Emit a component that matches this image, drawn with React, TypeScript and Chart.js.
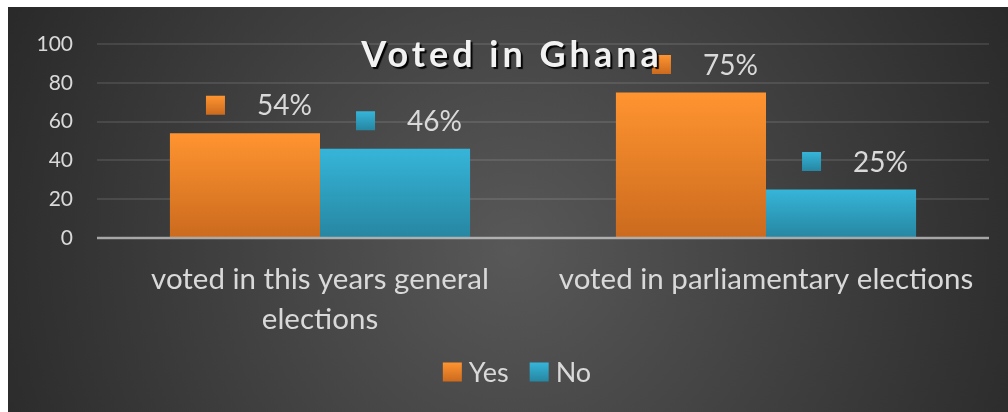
import React, { useEffect, useRef } from "react";
import { Chart, registerables } from "chart.js";

Chart.register(...registerables);

// ---- data ----
const categories: (string | string[])[] = [
  ["voted in this years general", "elections"],
  "voted in parliamentary elections",
];
const yesValues = [54, 75];
const noValues = [46, 25];
const seriesNames = ["Yes", "No"];
const yTickMin = 0;
const yTickMax = 100;
const yTickStep = 20;
const chartTitle = "Voted in Ghana";

// ---- styles ----
const FONT = "Lato, 'Noto Sans', sans-serif";
const TEXT = "#d9d9d9";
const ORANGE: [string, string] = ["#ff9430", "#cb6a1e"];
const BLUE: [string, string] = ["#36b5d9", "#2686a1"];

function vGrad(c: CanvasRenderingContext2D, top: number, bottom: number, stops: [string, string]) {
  const g = c.createLinearGradient(0, top, 0, bottom);
  g.addColorStop(0, stops[0]);
  g.addColorStop(1, stops[1]);
  return g;
}

const barFill = (stops: [string, string]) => (ctx: any) => {
  const chart = ctx.chart;
  if (!chart.chartArea || ctx.type !== "data") return stops[0];
  const y = chart.scales.y;
  return vGrad(chart.ctx, y.getPixelForValue(ctx.raw), y.getPixelForValue(0), stops);
};

const backgroundPlugin = {
  id: "radialBackground",
  beforeDraw(chart: any) {
    const c = chart.ctx as CanvasRenderingContext2D;
    const { width, height } = chart;
    c.save();
    const g = c.createRadialGradient(504, 243, 0, 504, 243, 600);
    g.addColorStop(0, "#585858");
    g.addColorStop(1, "#262626");
    c.fillStyle = g;
    c.fillRect(0, 0, width, height);
    c.restore();
  },
};

const overlayPlugin = {
  id: "overlay",
  afterDatasetsDraw(chart: any) {
    const c = chart.ctx as CanvasRenderingContext2D;
    const area = chart.chartArea;
    const y0 = chart.scales.y.getPixelForValue(0);

    // baseline at zero, drawn over the bars
    c.save();
    c.strokeStyle = "rgba(217,217,217,0.65)";
    c.lineWidth = 2.5;
    c.beginPath();
    c.moveTo(area.left, y0);
    c.lineTo(area.right, y0);
    c.stroke();
    c.restore();

    // value labels with series key
    const palettes = [ORANGE, BLUE];
    chart.data.datasets.forEach((ds: any, di: number) => {
      const meta = chart.getDatasetMeta(di);
      meta.data.forEach((bar: any, i: number) => {
        const cy = bar.y - 28;
        const bx = bar.x - 39;
        c.save();
        c.fillStyle = vGrad(c, cy - 9.5, cy + 9.5, palettes[di]);
        c.fillRect(bx, cy - 9.5, 19, 19);
        c.font = `28px ${FONT}`;
        c.fillStyle = TEXT;
        c.textAlign = "left";
        c.textBaseline = "middle";
        c.fillText(`${ds.data[i]}%`, bar.x + 12, cy + 1);
        c.restore();
      });
    });
  },
  afterDraw(chart: any) {
    const c = chart.ctx as CanvasRenderingContext2D;
    const { width } = chart;

    // title
    c.save();
    c.font = `bold 36px ${FONT}`;
    (c as any).letterSpacing = "4px";
    c.textAlign = "center";
    c.textBaseline = "alphabetic";
    c.shadowColor = "rgba(0,0,0,0.95)";
    c.shadowOffsetX = 2;
    c.shadowOffsetY = 2;
    c.shadowBlur = 1;
    c.fillStyle = "#f2f2f2";
    c.fillText(chartTitle, width / 2 + 4, 60);
    c.restore();

    // legend
    const palettes = [ORANGE, BLUE];
    c.save();
    c.font = `27px ${FONT}`;
    const box = 19;
    const gap = 7;
    const itemGap = 21;
    const widths = seriesNames.map((n) => box + gap + c.measureText(n).width);
    const total = widths.reduce((a, b) => a + b, 0) + itemGap * (widths.length - 1);
    let x = width / 2 + 9 - total / 2;
    const cy = 365;
    seriesNames.forEach((n, i) => {
      c.fillStyle = vGrad(c, cy - box / 2, cy + box / 2, palettes[i]);
      c.fillRect(x, cy - box / 2, box, box);
      c.fillStyle = TEXT;
      c.textAlign = "left";
      c.textBaseline = "middle";
      c.fillText(n, x + box + gap, cy + 1);
      x += widths[i] + itemGap;
    });
    c.restore();
  },
};

export default function App() {
  const canvasRef = useRef<HTMLCanvasElement | null>(null);

  useEffect(() => {
    if (!canvasRef.current) return;
    const chart = new Chart(canvasRef.current, {
      type: "bar",
      data: {
        labels: categories,
        datasets: [
          { label: seriesNames[0], data: yesValues, backgroundColor: barFill(ORANGE) as any },
          { label: seriesNames[1], data: noValues, backgroundColor: barFill(BLUE) as any },
        ],
      },
      options: {
        animation: false,
        responsive: true,
        maintainAspectRatio: false,
        layout: { padding: { top: 37, right: 19, bottom: 0, left: 0 } },
        datasets: { bar: { categoryPercentage: 0.673, barPercentage: 1 } },
        plugins: {
          legend: { display: false },
          title: { display: false },
          tooltip: { enabled: false },
        },
        scales: {
          x: {
            grid: { display: false, drawTicks: false },
            border: { display: false },
            ticks: {
              color: TEXT,
              font: { family: FONT, size: 29.5, lineHeight: 1.36 },
              padding: 21,
              maxRotation: 0,
              autoSkip: false,
            },
            afterFit(scale: any) {
              scale.height = 174;
            },
          },
          y: {
            min: yTickMin,
            max: yTickMax,
            grid: { color: "rgba(255,255,255,0.1)", lineWidth: 2, drawTicks: false },
            border: { display: false },
            ticks: {
              stepSize: yTickStep,
              color: TEXT,
              font: { family: FONT, size: 21 },
              padding: 24,
            },
            afterFit(scale: any) {
              scale.width = 89;
            },
          },
        },
      },
      plugins: [backgroundPlugin, overlayPlugin],
    });
    return () => chart.destroy();
  }, []);

  return (
    <div style={{ position: "absolute", left: 8, top: 7, width: 1000, height: 405 }}>
      <canvas ref={canvasRef} />
    </div>
  );
}
